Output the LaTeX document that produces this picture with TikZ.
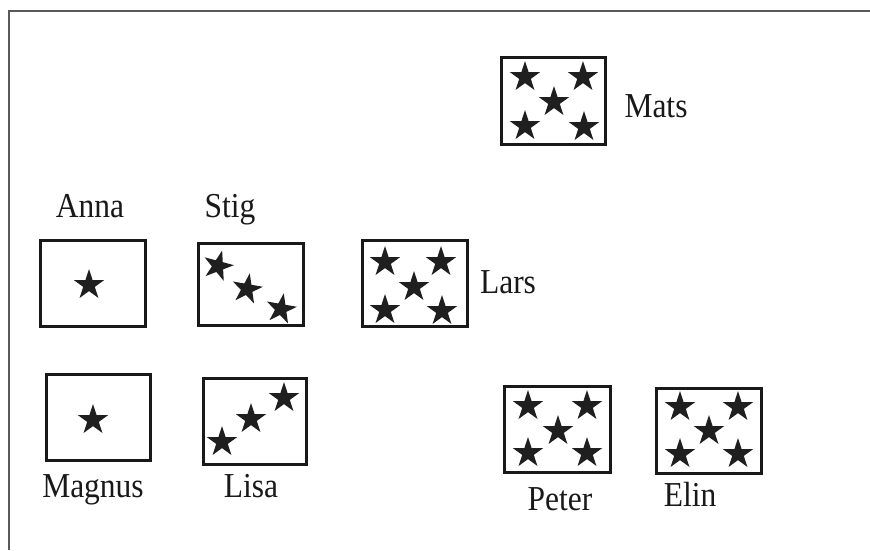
\documentclass[tikz,border=0pt]{standalone}
\usepackage{fontspec}
\setmainfont{Liberation Serif}
\newfontfamily\lblfont[FakeStretch=0.9]{Liberation Serif}
\usetikzlibrary{shapes.geometric}
\tikzset{
  box/.style={draw=black!90, line width=3pt, minimum width=105pt, minimum height=86pt, inner sep=0pt},
  st/.style={star, star points=5, star point ratio=2.618, fill=black!88, draw=none, minimum size=32pt, inner sep=0pt},
  lbl/.style={font=\lblfont\fontsize{35}{38}\selectfont, anchor=base, inner sep=0pt, text=black!90},
  frame/.style={draw=black!65, line width=2pt}
}
\begin{document}
\begin{tikzpicture}[x=1pt, y=-1pt]
\useasboundingbox (0,0) rectangle (870,550);
\fill[white] (0,0) rectangle (870,550);
\draw[frame] (9,550) -- (9,10.5) -- (870,10.5);

% Mats
\node[box, minimum width=104pt, minimum height=87pt] (matsbox) at (553.5,101) {};
\node[st] (mats1) at (525,77) {};
\node[st] (mats2) at (583,77) {};
\node[st] (mats3) at (554,102) {};
\node[st] (mats4) at (525,126) {};
\node[st] (mats5) at (584,127) {};
\node[lbl] (mats) at (656,117) {Mats};

% Anna
\node[box] (annabox) at (93,283.5) {};
\node[st] (anna1) at (89,285) {};
\node[lbl] (anna) at (90,217) {Anna};

% Stig
\node[box, minimum height=82pt] (stigbox) at (251,284.5) {};
\node[st, shape border rotate=-15] (stig1) at (218,266) {};
\node[st, shape border rotate=-10] (stig2) at (247,289) {};
\node[st, shape border rotate=-10] (stig3) at (281,309) {};
\node[lbl] (stig) at (230,217) {Stig};

% Lars
\node[box] (larsbox) at (415,283.5) {};
\node[st] (lars1) at (385,262) {};
\node[st] (lars2) at (441,262) {};
\node[st] (lars3) at (414,287) {};
\node[st] (lars4) at (385,310) {};
\node[st] (lars5) at (442,311) {};
\node[lbl] (lars) at (508,293) {Lars};

% Magnus
\node[box, minimum width=104pt] (magnusbox) at (98.5,417.5) {};
\node[st] (magnus1) at (93,420) {};
\node[lbl] (magnus) at (93,497) {Magnus};

% Lisa
\node[box, minimum width=103pt] (lisabox) at (255,421.5) {};
\node[st] (lisa1) at (222,442) {};
\node[st] (lisa2) at (251,419) {};
\node[st] (lisa3) at (284,398) {};
\node[lbl] (lisa) at (251,497) {Lisa};

% Peter
\node[box, minimum width=106pt] (peterbox) at (557.5,429.5) {};
\node[st] (peter1) at (528,406) {};
\node[st] (peter2) at (587,406) {};
\node[st] (peter3) at (558,431) {};
\node[st] (peter4) at (528,453) {};
\node[st] (peter5) at (587,453) {};
\node[lbl] (peter) at (560,510) {Peter};

% Elin
\node[box, minimum height=85pt] (elinbox) at (709,431) {};
\node[st] (elin1) at (680,407) {};
\node[st] (elin2) at (738,407) {};
\node[st] (elin3) at (709,431) {};
\node[st] (elin4) at (680,454) {};
\node[st] (elin5) at (738,454) {};
\node[lbl] (elin) at (690,506) {Elin};
\end{tikzpicture}
\end{document}
